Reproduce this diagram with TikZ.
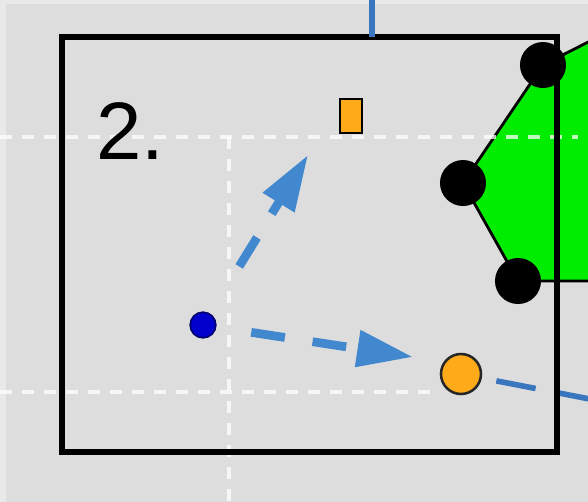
\documentclass[tikz,border=0pt]{standalone}
\usepackage{fontspec}
\setmainfont{Liberation Sans}
\usepackage{tikz}
\usetikzlibrary{arrows.meta, positioning}
\usepackage{xcolor}
\definecolor{bggray}{RGB}{221,221,221}
\definecolor{edgegray}{RGB}{233,233,233}
\definecolor{pathblue}{RGB}{66,136,206}
\definecolor{linkblue}{RGB}{58,118,190}
\definecolor{agentblue}{RGB}{0,0,205}
\definecolor{goalorange}{RGB}{255,170,25}
\definecolor{obstgreen}{RGB}{0,236,0}

\begin{document}
\begin{tikzpicture}[
    x=0.025cm, y=-0.025cm,
    every node/.style={inner sep=0pt, outer sep=0pt},
    gridline/.style={white, line width=2.4pt, dash pattern=on 0.3cm off 0.25cm, opacity=0.75},
    panel/.style={rectangle, draw=black, line width=4.2pt, minimum width=12.375cm, minimum height=10.375cm},
    obstacle/.style={fill=obstgreen, draw=black, line width=2pt, line join=round},
    corner/.style={circle, fill=black, minimum size=1.15cm},
    agent/.style={circle, fill=agentblue, draw=agentblue!55!black, line width=1.2pt, minimum size=0.64cm},
    goalbox/.style={rectangle, fill=goalorange, draw=black, line width=1.5pt, minimum width=0.56cm, minimum height=0.86cm},
    target/.style={circle, fill=goalorange, draw=black!85, line width=1.8pt, minimum size=1.0cm},
    move/.style={-{Triangle[length=1.4cm, width=0.88cm]}, pathblue, line width=6.2pt, dash pattern=on 0.85cm off 0.7cm},
    link/.style={linkblue, line width=4pt, dash pattern=on 1cm off 0.5cm}
]
% Background
\useasboundingbox (0,0) rectangle (588,502);
\clip (0,0) rectangle (588,502);
\fill[edgegray] (0,0) rectangle (588,502);
\fill[bggray] (6,4) rectangle (588,502);

% Obstacle (green) with its corners
\coordinate (c1) at (543,65);
\coordinate (c2) at (463,183);
\coordinate (c3) at (518,281);
\filldraw[obstacle] (600,36) -- (c1) -- (c2) -- (c3) -- (600,281);

% Grid lines
\draw[gridline] (0,137) -- (578,137);
\draw[gridline] (0,392) -- (440,392);
\draw[gridline] (229,137) -- (229,502);

% Nodes
\node[panel] (frame) at (309.5,244.5) {};
\node[anchor=base west, font=\fontsize{58}{60}\selectfont] (label) at (96,159) {2.};
\node[agent] (robot) at (203,325) {};
\node[goalbox] (goal) at (351,116) {};
\node[target] (ball) at (461,374) {};
\foreach \c in {c1,c2,c3}
    \node[corner] (dot\c) at (\c) {};

% Links leaving the frame
\coordinate (linktop) at (372,0);
\coordinate (linkright) at (600,401);
\draw[link] (linktop) -- (linktop |- frame.north);
\draw[link, shorten <=0.4cm] (ball) -- (linkright);
\draw[black, line width=4.2pt] (frame.north east) -- (frame.south east);

% Moves of the agent
\coordinate (tipA) at (308,155);
\coordinate (tipB) at (413,357);
\draw[move, shorten <=1.4cm] (robot) -- (tipA);
\draw[move, shorten <=0.9cm] (robot) -- (tipB);
\end{tikzpicture}
\end{document}
